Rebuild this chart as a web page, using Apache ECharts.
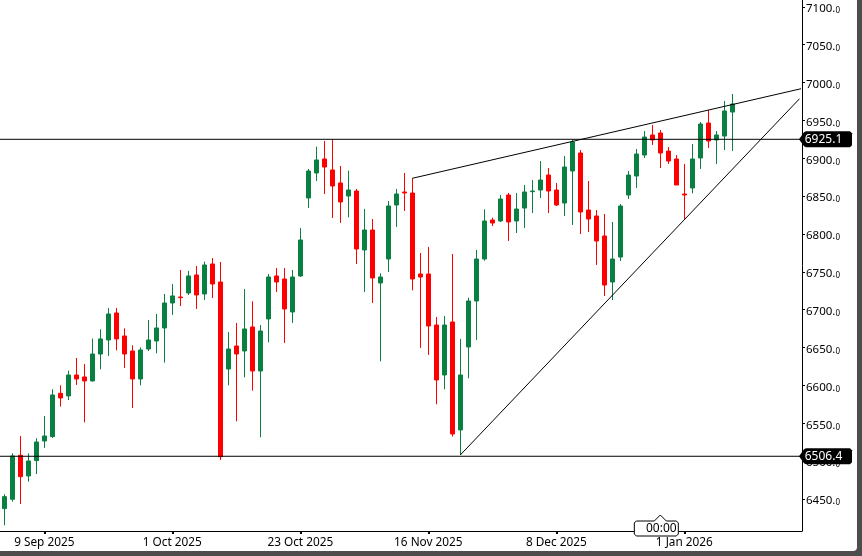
<!DOCTYPE html>
<html lang="en">
  <head>
    <meta charset="UTF-8" />
    <title>Candlestick chart</title>
    <style>
      html, body {
        margin: 0;
        height: 100%;
        overflow: hidden;
        background: #4d4d4d;
      }
      #chart {
        width: 857px;
        height: 551px;
        background: #fff;
        border-bottom-right-radius: 4px;
      }
    </style>
  </head>
  <body>
    <div id="chart"></div>
    <script src="https://cdn.jsdelivr.net/npm/echarts@6/dist/echarts.min.js"></script>
    <script>
      const opens = [
        6437.3, 6449.6, 6507.7, 6480.4, 6500.7, 6526.6, 6532.4, 6589.6, 6586.1, 6613.8,
        6611.2, 6605.9, 6641.5, 6660.0, 6695.7, 6665.3, 6645.5, 6608.5, 6648.1, 6658.7,
        6675.9, 6708.9, 6716.8, 6722.1, 6745.9, 6720.8, 6760.4, 6736.6, 6621.7, 6652.1,
        6645.5, 6677.2, 6619.1, 6687.8, 6744.6, 6740.6, 6697.0, 6744.6, 6847.6, 6880.6,
        6899.1, 6884.6, 6867.4, 6850.2, 6856.8, 6778.9, 6805.3, 6735.3, 6767.0, 6838.3,
        6855.5, 6854.2, 6747.2, 6747.2, 6679.8, 6613.8, 6683.8, 6541.2, 6650.8, 6711.5,
        6767.0, 6818.5, 6817.2, 6851.5, 6817.2, 6834.3, 6855.9, 6858.1, 6877.9, 6858.1,
        6840.9, 6883.2, 6907.0, 6831.7, 6823.8, 6797.4, 6736.6, 6769.6, 6851.5, 6876.6,
        6904.3, 6930.8, 6933.4, 6909.6, 6899.1, 6852.8, 6860.8, 6900.4, 6946.6, 6924.2,
        6929.4, 6961.1
      ];
      const closes = [
        6453.1, 6506.8, 6479.5, 6500.2, 6525.3, 6533.2, 6587.4, 6583.4, 6613.8, 6608.5,
        6605.9, 6641.5, 6661.4, 6694.4, 6661.4, 6641.5, 6608.5, 6646.8, 6660.0, 6675.9,
        6708.9, 6718.2, 6715.9, 6744.6, 6719.5, 6759.1, 6734.0, 6505.9, 6648.1, 6641.5,
        6674.6, 6619.1, 6671.9, 6743.2, 6736.6, 6701.0, 6743.2, 6792.1, 6883.2, 6897.8,
        6888.5, 6863.4, 6842.3, 6858.2, 6780.2, 6805.3, 6741.9, 6743.2, 6837.0, 6852.9,
        6854.2, 6740.6, 6743.2, 6678.5, 6607.2, 6679.8, 6535.9, 6613.8, 6711.5, 6767.0,
        6817.2, 6814.5, 6846.2, 6815.9, 6833.0, 6855.5, 6856.8, 6871.3, 6856.8, 6838.3,
        6888.5, 6921.5, 6829.1, 6819.8, 6790.8, 6732.6, 6767.0, 6837.0, 6877.9, 6905.7,
        6928.1, 6924.2, 6907.0, 6896.4, 6864.7, 6851.5, 6899.1, 6945.3, 6922.8, 6930.8,
        6962.5, 6971.7
      ];
      const lows = [
        6415.2, 6446.5, 6443.4, 6472.9, 6483.0, 6517.4, 6530.6, 6572.0, 6580.8, 6600.6,
        6551.3, 6605.0, 6621.3, 6638.9, 6646.4, 6623.1, 6570.2, 6600.2, 6645.5, 6642.4,
        6630.1, 6693.1, 6704.9, 6719.5, 6701.0, 6712.9, 6715.5, 6501.5, 6600.2, 6552.6,
        6610.7, 6593.1, 6531.5, 6656.9, 6723.4, 6656.1, 6682.5, 6743.2, 6834.4, 6870.0,
        6852.9, 6821.2, 6814.6, 6822.0, 6760.4, 6723.4, 6708.9, 6631.9, 6749.8, 6809.3,
        6830.4, 6725.6, 6649.5, 6640.2, 6575.1, 6594.9, 6532.4, 6508.1, 6609.4, 6660.0,
        6764.8, 6810.6, 6815.9, 6790.8, 6801.3, 6807.9, 6827.7, 6847.6, 6827.7, 6837.0,
        6823.8, 6811.9, 6800.0, 6802.6, 6759.1, 6718.1, 6712.8, 6764.3, 6846.2, 6860.8,
        6900.4, 6917.6, 6887.2, 6892.5, 6864.7, 6819.8, 6853.7, 6885.9, 6913.6, 6892.5,
        6911.0, 6909.6
      ];
      const highs = [
        6456.2, 6510.3, 6533.2, 6510.3, 6530.2, 6559.7, 6594.9, 6600.2, 6619.5, 6636.3,
        6628.3, 6661.8, 6674.1, 6702.3, 6702.3, 6675.4, 6653.0, 6650.3, 6686.5, 6694.4,
        6720.8, 6734.0, 6752.5, 6751.2, 6757.8, 6763.5, 6768.3, 6763.1, 6670.6, 6682.5,
        6727.4, 6711.1, 6679.8, 6747.2, 6755.1, 6755.1, 6752.5, 6808.0, 6885.9, 6915.4,
        6922.9, 6925.1, 6889.9, 6883.7, 6859.5, 6833.1, 6819.8, 6748.1, 6843.6, 6859.5,
        6880.6, 6873.6, 6774.9, 6782.9, 6690.4, 6691.7, 6773.6, 6661.4, 6715.9, 6778.9,
        6832.6, 6821.6, 6851.5, 6854.2, 6854.2, 6864.7, 6871.3, 6896.4, 6887.2, 6867.4,
        6903.0, 6925.0, 6911.0, 6870.0, 6831.7, 6826.4, 6815.9, 6839.6, 6883.2, 6912.3,
        6936.0, 6944.0, 6937.4, 6914.9, 6904.3, 6892.5, 6918.9, 6947.9, 6963.8, 6936.0,
        6975.7, 6984.9
      ];

      const xTicks = [5, 21, 37, 53, 69, 85];
      const xTickLabels = ["9 Sep 2025", "1 Oct 2025", "23 Oct 2025", "16 Nov 2025", "8 Dec 2025", "1 Jan 2026"];
      const priceTicks = [6450, 6500, 6550, 6600, 6650, 6700, 6750, 6800, 6850, 6900, 6950, 7000, 7050, 7100];

      const levels = [6925.1, 6506.4];
      const resistanceX = [51, 99.59];
      const resistanceY = [6873.6, 6991.9];
      const supportX = [57, 99.4];
      const supportY = [6508.1, 6978.7];
      const crosshairBar = 82;
      const crosshairLabel = "00:00";

      const xMin = -0.5375;
      const xMax = 99.71;
      const yMin = 6407.7;
      const yMax = 7109.1;
      const font = '"Noto Sans", sans-serif';
      const green = "#0a7f42";
      const red = "#ff0000";

      const lineSeries = (xs, ys) => ({
        type: "line",
        data: xs.map((x, i) => [x, ys[i]]),
        symbol: "none",
        silent: true,
        animation: false,
        lineStyle: { color: "#000", width: 1 },
        z: 5
      });

      // price tag with the little arrow on the left, sits on top of the axis
      function renderPriceTag(params, api) {
        const pt = api.coord([xMax, api.value(1)]);
        const l = pt[0] + 1, r = pt[0] + 50, t = pt[1] - 8, b = pt[1] + 8;
        return {
          type: "group",
          children: [
            {
              type: "polygon",
              shape: {
                points: [[pt[0] - 3, pt[1]], [l + 1, t + 1], [l + 3, t], [r - 2, t], [r, t + 2], [r, b - 2], [r - 2, b], [l + 3, b], [l + 1, b - 1]]
              },
              style: { fill: "#000" }
            },
            {
              type: "text",
              style: {
                text: api.value(1).toFixed(1),
                x: pt[0] + 21.5,
                y: pt[1] + 0.5,
                fill: "#fff",
                font: "12px " + font,
                textAlign: "center",
                textVerticalAlign: "middle"
              }
            }
          ]
        };
      }

      function renderTimeTag(params, api) {
        const pt = api.coord([api.value(0), yMin]);
        const l = pt[0] - 26, r = pt[0] + 18, t = pt[1] - 10, b = pt[1] + 5;
        return {
          type: "group",
          children: [
            {
              type: "polygon",
              shape: {
                points: [[pt[0], pt[1] - 16], [pt[0] + 6, t], [r - 2, t], [r, t + 2], [r, b - 2], [r - 2, b], [l + 2, b], [l, b - 2], [l, t + 2], [l + 2, t], [pt[0] - 6, t]]
              },
              style: { fill: "#fff", stroke: "#000", lineWidth: 1 }
            },
            {
              type: "text",
              style: {
                text: crosshairLabel,
                x: pt[0] + 1,
                y: pt[1] - 2,
                fill: "#000",
                font: "12px " + font,
                textAlign: "center",
                textVerticalAlign: "middle"
              }
            }
          ]
        };
      }

      const chart = echarts.init(document.getElementById("chart"));
      chart.setOption({
        animation: false,
        backgroundColor: "transparent",
        grid: { left: 0, top: 0, width: 802, height: 531 },
        xAxis: {
          type: "value",
          min: xMin,
          max: xMax,
          splitLine: { show: false },
          axisLine: { onZero: false, lineStyle: { color: "#000", width: 1 } },
          axisTick: { customValues: xTicks, length: 3, lineStyle: { color: "#000", width: 2 } },
          axisLabel: {
            customValues: xTicks,
            margin: 6,
            color: "#000",
            fontFamily: font,
            fontSize: 11.8,
            formatter: v => xTickLabels[xTicks.indexOf(v)]
          }
        },
        yAxis: {
          type: "value",
          position: "right",
          min: yMin,
          max: yMax,
          splitLine: { show: false },
          axisLine: { show: true, onZero: false, lineStyle: { color: "#000", width: 1 } },
          axisTick: { show: true, customValues: priceTicks, length: 3, lineStyle: { color: "#000" } },
          axisLabel: {
            customValues: priceTicks,
            margin: 4,
            padding: [4, 0, 0, 0],
            formatter: v => `{a|${v}.}{b|0}`,
            rich: {
              a: { color: "#000", fontFamily: font, fontSize: 11.5 },
              b: { color: "#000", fontFamily: font, fontSize: 8, verticalAlign: "bottom", padding: [3, 0, 0, 0] }
            }
          }
        },
        series: [
          {
            type: "candlestick",
            data: opens.map((o, i) => [i, o, closes[i], lows[i], highs[i]]),
            barWidth: 4,
            silent: true,
            itemStyle: {
              color: green,
              color0: red,
              borderColor: green,
              borderColor0: red,
              borderWidth: 1
            }
          },
          lineSeries([xMin, xMax], [levels[0], levels[0]]),
          lineSeries([xMin, xMax], [levels[1], levels[1]]),
          lineSeries(resistanceX, resistanceY),
          lineSeries(supportX, supportY),
          {
            type: "custom",
            data: levels.map(v => [xMax, v]),
            renderItem: renderPriceTag,
            clip: false,
            silent: true,
            z: 20
          },
          {
            type: "custom",
            data: [[crosshairBar, yMin]],
            renderItem: renderTimeTag,
            clip: false,
            silent: true,
            z: 20
          }
        ]
      });
    </script>
  </body>
</html>
